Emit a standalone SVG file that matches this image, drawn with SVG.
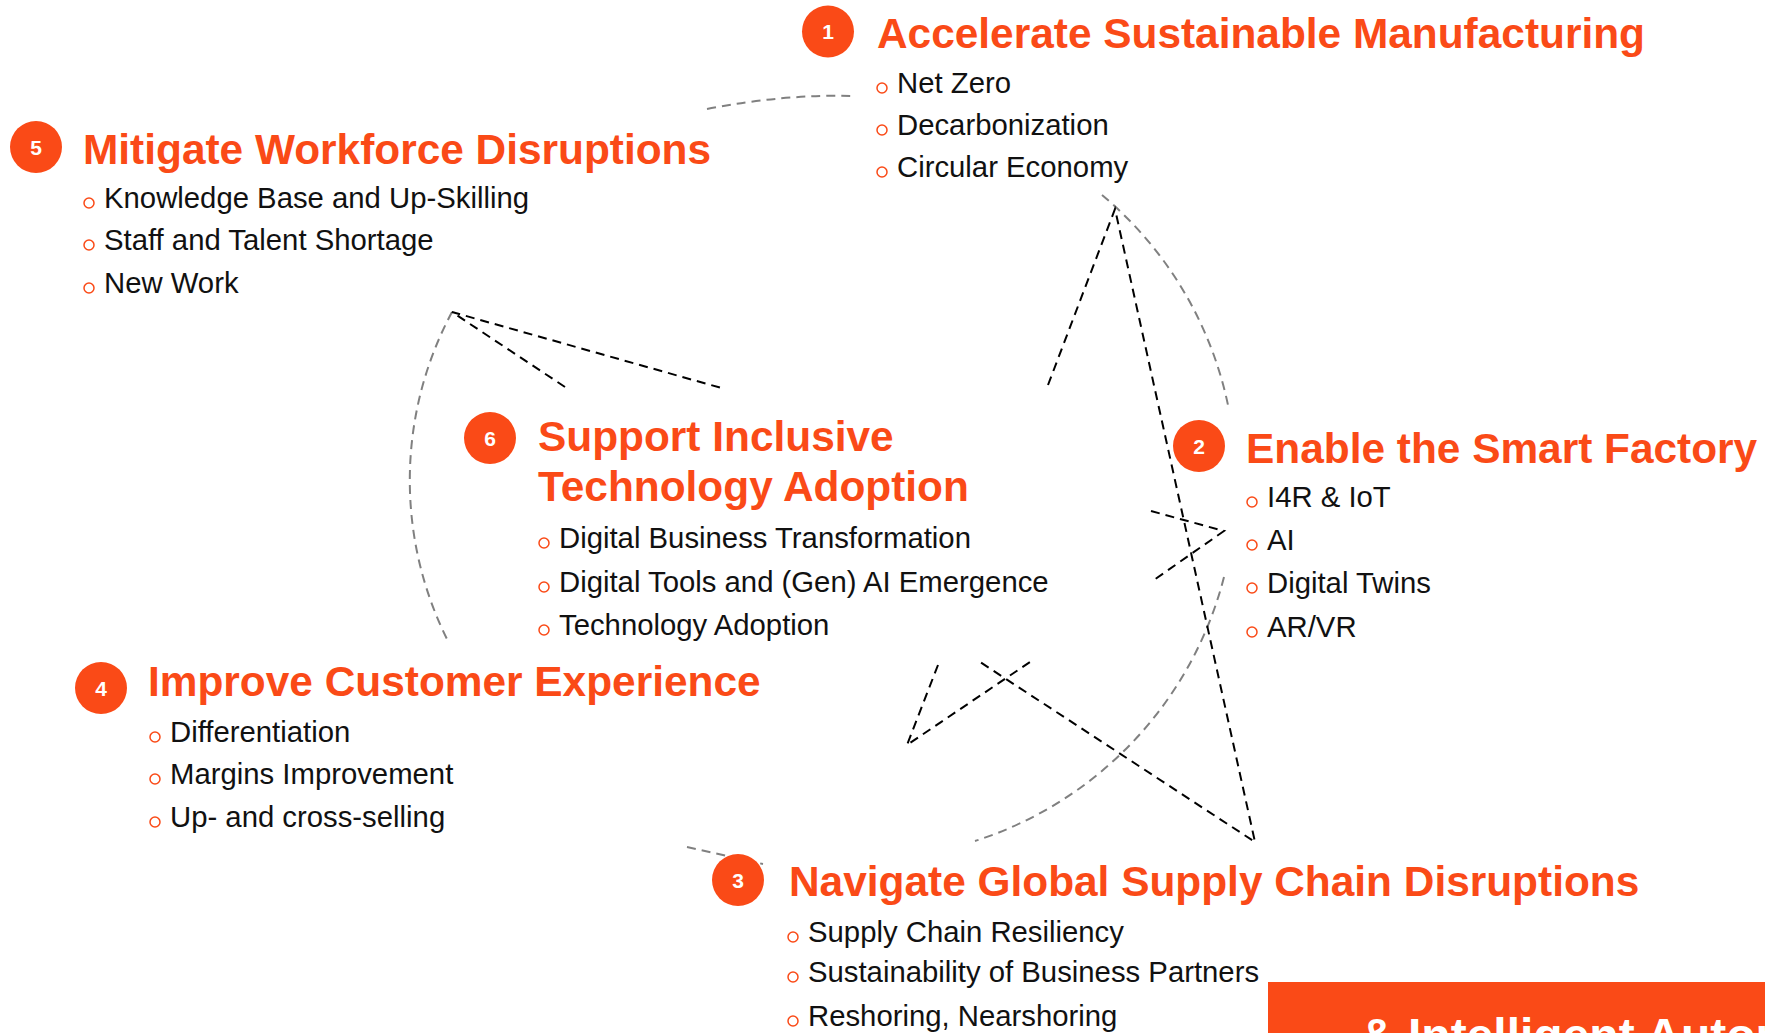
<svg xmlns="http://www.w3.org/2000/svg" width="1765" height="1033" viewBox="0 0 1765 1033">
<style>
.t{font-family:"Liberation Sans",Arial,sans-serif;font-weight:bold;font-size:42.4px;fill:#FA4A17}
.s{font-family:"Liberation Sans",Arial,sans-serif;font-size:29.3px;fill:#111}
.n{font-family:"Liberation Sans",Arial,sans-serif;font-weight:bold;font-size:21px;fill:#fff;text-anchor:middle}
.c{fill:#FA4A17}
.b{fill:none;stroke:#FA4A17;stroke-width:1.5}
.g{fill:none;stroke:#808080;stroke-width:2;stroke-dasharray:9 6}
.k{fill:none;stroke:#000;stroke-width:2;stroke-dasharray:9 6}
</style>
<rect width="1765" height="1033" fill="#fff"/>
<g id="connectors">
<path class="g" d="M707,109 Q785,94 853,96"/>
<path class="g" d="M1102,195 A375,375 0 0 1 1229,410"/>
<path class="g" d="M1224,577 A375,375 0 0 1 975,841"/>
<path class="g" d="M687,847 L763,864"/>
<path class="g" d="M452,312 A357,357 0 0 0 449,643"/>
<path class="k" d="M565,387 L452,312 L725,389"/>
<path class="k" d="M1048,385 L1115,209 L1255,842 L980,662"/>
<path class="k" d="M1151,511 L1224,531 L1151,582"/>
<path class="k" d="M938,665 L907,745 L1030,662"/>
</g>
<g id="node1">
<circle class="c" cx="828" cy="31.5" r="26"/>
<text class="n" x="828" y="39">1</text>
<text class="t" x="877" y="48">Accelerate Sustainable Manufacturing</text>
<circle class="b" cx="882" cy="88" r="5"/><text class="s" x="897" y="93">Net Zero</text>
<circle class="b" cx="882" cy="130" r="5"/><text class="s" x="897" y="135">Decarbonization</text>
<circle class="b" cx="882" cy="172" r="5"/><text class="s" x="897" y="177">Circular Economy</text>
</g>
<g id="node2">
<circle class="c" cx="1199" cy="446" r="26"/>
<text class="n" x="1199" y="453.5">2</text>
<text class="t" x="1246" y="463">Enable the Smart Factory</text>
<circle class="b" cx="1252" cy="502" r="5"/><text class="s" x="1267" y="507">I4R &amp; IoT</text>
<circle class="b" cx="1252" cy="545" r="5"/><text class="s" x="1267" y="550">AI</text>
<circle class="b" cx="1252" cy="588" r="5"/><text class="s" x="1267" y="593">Digital Twins</text>
<circle class="b" cx="1252" cy="632" r="5"/><text class="s" x="1267" y="637">AR/VR</text>
</g>
<g id="node3">
<circle class="c" cx="738" cy="880" r="26"/>
<text class="n" x="738" y="887.5">3</text>
<text class="t" x="789" y="896">Navigate Global Supply Chain Disruptions</text>
<circle class="b" cx="793" cy="937" r="5"/><text class="s" x="808" y="942">Supply Chain Resiliency</text>
<circle class="b" cx="793" cy="977" r="5"/><text class="s" x="808" y="982">Sustainability of Business Partners</text>
<circle class="b" cx="793" cy="1021" r="5"/><text class="s" x="808" y="1026">Reshoring, Nearshoring</text>
</g>
<g id="node4">
<circle class="c" cx="101" cy="688" r="26"/>
<text class="n" x="101" y="695.5">4</text>
<text class="t" x="148" y="696">Improve Customer Experience</text>
<circle class="b" cx="155" cy="737" r="5"/><text class="s" x="170" y="742">Differentiation</text>
<circle class="b" cx="155" cy="779" r="5"/><text class="s" x="170" y="784">Margins Improvement</text>
<circle class="b" cx="155" cy="822" r="5"/><text class="s" x="170" y="827">Up- and cross-selling</text>
</g>
<g id="node5">
<circle class="c" cx="36" cy="147" r="26"/>
<text class="n" x="36" y="154.5">5</text>
<text class="t" x="83" y="164">Mitigate Workforce Disruptions</text>
<circle class="b" cx="89" cy="203" r="5"/><text class="s" x="104" y="208">Knowledge Base and Up-Skilling</text>
<circle class="b" cx="89" cy="245" r="5"/><text class="s" x="104" y="250">Staff and Talent Shortage</text>
<circle class="b" cx="89" cy="288" r="5"/><text class="s" x="104" y="293">New Work</text>
</g>
<g id="node6">
<circle class="c" cx="490" cy="438" r="26"/>
<text class="n" x="490" y="445.5">6</text>
<text class="t" x="538" y="451">Support Inclusive</text>
<text class="t" x="538" y="501">Technology Adoption</text>
<circle class="b" cx="544" cy="543" r="5"/><text class="s" x="559" y="548">Digital Business Transformation</text>
<circle class="b" cx="544" cy="587" r="5"/><text class="s" x="559" y="592">Digital Tools and (Gen) AI Emergence</text>
<circle class="b" cx="544" cy="630" r="5"/><text class="s" x="559" y="635">Technology Adoption</text>
</g>
<g id="banner">
<rect x="1268" y="982" width="497" height="51" fill="#FA4A17"/>
<text x="1360" y="1052" style="font-family:'Liberation Sans',Arial,sans-serif;font-weight:bold;font-size:48px;fill:#fff">&amp; Intelligent Autom</text>
</g>
</svg>
